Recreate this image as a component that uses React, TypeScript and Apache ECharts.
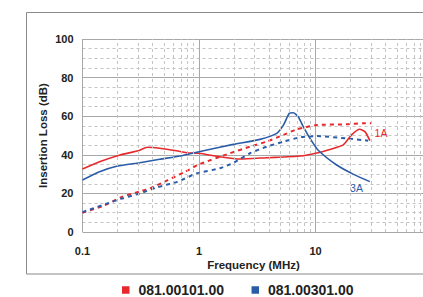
import React, { useEffect, useRef } from "react";
import * as echarts from "echarts";

const RED = "#e8292c";
const BLUE = "#2b5ca8";
const FONT = "'Liberation Sans', Arial, sans-serif";

const legendNames = ["081.00101.00", "081.00301.00"];
const minorFreqs = [0.2, 0.3, 0.4, 0.5, 0.6, 0.7, 0.8, 0.9, 2, 3, 4, 5, 6, 7, 8, 9, 20, 30, 40, 50, 60, 70, 80, 90];

// 081.00101.00 solid
const redSolidF = [0.1, 0.14, 0.21, 0.3, 0.36, 0.46, 0.64, 0.78, 1.0, 1.5, 2.25, 3.8, 7.4, 10.5, 13.3, 17.3, 20.4, 24, 26.6, 29.3];
const redSolidV = [32.6, 36.4, 39.9, 42.1, 43.9, 43.4, 42.1, 41.1, 40.8, 39, 37.8, 38.5, 39.4, 41.1, 42.8, 45.1, 50.3, 53.2, 52, 47.3];
// 081.00101.00 dashed
const redDashF = [0.1, 0.15, 0.22, 0.31, 0.38, 0.54, 0.76, 1.0, 1.84, 2.74, 3.8, 5.3, 6.9, 10.2, 18.5, 25.7, 30];
const redDashV = [10, 13.5, 18.3, 21, 22.6, 26.9, 31.2, 35, 40.8, 44.2, 46.8, 50.3, 53.2, 55.4, 55.8, 56.3, 56.3];
// 081.00301.00 solid
const blueSolidF = [0.1, 0.14, 0.2, 0.31, 0.46, 0.69, 1.0, 1.97, 3.34, 4.64, 5.3, 5.96, 6.45, 7.1, 7.85, 8.97, 10.5, 15.2, 21, 29.3];
const blueSolidV = [26.9, 31.2, 34.2, 35.9, 37.7, 39.4, 41.6, 45.4, 48, 51.1, 55.4, 61.5, 61.8, 59.7, 54.6, 48.5, 42.5, 34.7, 30, 26.1];
// 081.00301.00 dashed
const blueDashF = [0.1, 0.18, 0.22, 0.31, 0.44, 0.65, 0.96, 1.51, 2.0, 2.74, 3.8, 5.3, 7.4, 10.2, 18.5, 28.3];
const blueDashV = [10.3, 15.7, 17.4, 20, 23.2, 26, 30.4, 33, 36, 40.8, 44.2, 46.8, 49.1, 49.7, 48.5, 47.3];

const zip = (f: number[], v: number[]) => f.map((x, i) => [x, v[i]]);

export default function App() {
  const ref = useRef<HTMLDivElement>(null);
  useEffect(() => {
    if (!ref.current) return;
    const chart = echarts.init(ref.current, undefined, { renderer: "svg" });
    const lineSeries = (name: string, data: number[][], color: string, dashed: boolean, extra: any = {}) => ({
      type: "line",
      name,
      data,
      showSymbol: false,
      symbol: "none",
      smooth: 0.2,
      z: 3,
      lineStyle: { color, width: dashed ? 2 : 1.6, type: dashed ? [4, 4] : "solid" },
      itemStyle: { color },
      ...extra,
    });
    chart.setOption({
      animation: false,
      textStyle: { fontFamily: FONT },
      grid: { left: 82.5, width: 349.5, top: 39, height: 193, containLabel: false, outerBoundsMode: "none" },
      xAxis: {
        type: "log",
        logBase: 10,
        min: 0.1,
        max: 100,
        axisLine: { show: false },
        axisTick: { show: false },
        axisLabel: { fontFamily: FONT, fontSize: 11, fontWeight: "bold", color: "#222", margin: 13, hideOverlap: false },
        splitLine: { show: true, lineStyle: { color: "#a8a8a8", width: 1 } },
      },
      yAxis: {
        type: "value",
        min: 0,
        max: 100,
        interval: 20,
        axisLine: { show: false },
        axisTick: { show: false },
        axisLabel: { fontFamily: FONT, fontSize: 11, fontWeight: "bold", color: "#222", margin: 9 },
        splitLine: { show: true, lineStyle: { color: "#a8a8a8", width: 1 } },
        minorTick: { show: false, splitNumber: 4 },
        minorSplitLine: { show: true, lineStyle: { color: "#c4c4c4", width: 1, type: [3, 3] } },
      },
      legend: {
        data: legendNames.map((n) => ({ name: n, icon: "rect" })),
        formatter: (n: string) => " " + n,
        left: 122,
        top: 283,
        itemWidth: 7.5,
        itemHeight: 7.5,
        itemGap: 27.5,
        padding: 0,
        textStyle: { fontFamily: FONT, fontSize: 14, fontWeight: "bold", color: "#222" },
      },
      graphic: [
        { type: "rect", shape: { x: 26.5, y: 12.5, width: 600, height: 261.5 }, style: { fill: "none", stroke: "#8a8a8a", lineWidth: 1 }, z: 0 },
        { type: "text", x: 43, y: 135.5, rotation: Math.PI / 2, style: { text: "Insertion Loss (dB)", font: `bold 11.5px ${FONT}`, fill: "#222", align: "center", verticalAlign: "middle" } },
        { type: "text", x: 253.5, y: 264.5, style: { text: "Frequency (MHz)", font: `bold 11.5px ${FONT}`, fill: "#222", align: "center", verticalAlign: "middle" } },
      ],
      series: [
        {
          type: "line",
          name: "minor",
          data: [],
          z: 1,
          silent: true,
          markLine: {
            silent: true,
            symbol: ["none", "none"],
            label: { show: false },
            lineStyle: { color: "#c4c4c4", width: 1, type: [3, 3] },
            data: minorFreqs.map((f) => ({ xAxis: f })),
          },
        },
        lineSeries(legendNames[0], zip(redSolidF, redSolidV), RED, false, {
          markPoint: {
            symbolSize: 0,
            label: { show: true, formatter: "1A", color: RED, fontSize: 10.5, fontFamily: FONT, position: "inside" },
            data: [{ coord: [36.5, 51.5] }],
          },
        }),
        lineSeries("081.00101.00 dashed", zip(redDashF, redDashV), RED, true),
        lineSeries(legendNames[1], zip(blueSolidF, blueSolidV), BLUE, false, {
          markPoint: {
            symbolSize: 0,
            label: { show: true, formatter: "3A", color: BLUE, fontSize: 10.5, fontFamily: FONT, position: "inside" },
            data: [{ coord: [22.5, 22.8] }],
          },
        }),
        lineSeries("081.00301.00 dashed", zip(blueDashF, blueDashV), BLUE, true),
      ],
    });
    return () => chart.dispose();
  }, []);
  return <div ref={ref} style={{ position: "absolute", left: 0, top: 0, width: 423, height: 297, background: "#fff" }} />;
}
